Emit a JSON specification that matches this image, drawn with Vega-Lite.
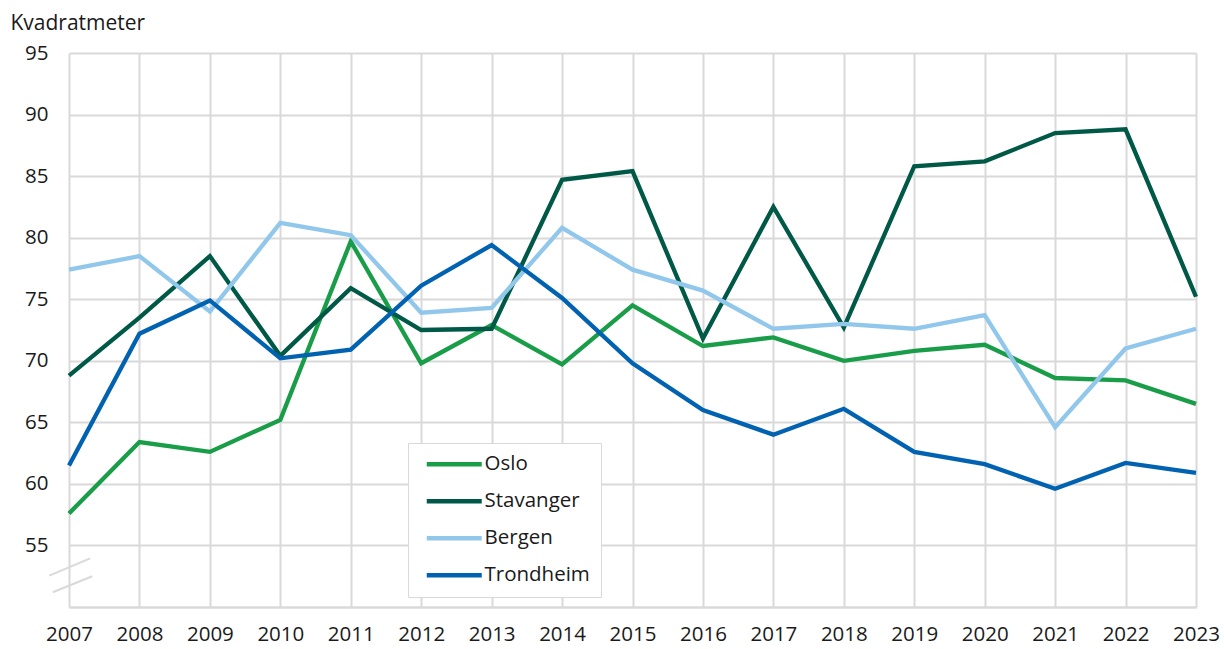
{
  "$schema": "https://vega.github.io/schema/vega-lite/v6.json",
  "width": 1127,
  "height": 554,
  "autosize": {"type": "none"},
  "padding": {"left": 69, "top": 53, "right": 28, "bottom": 42},
  "background": "white",
  "config": {
    "font": "Open Sans",
    "view": {"stroke": null},
    "axis": {"labelFont": "Open Sans", "titleFont": "Open Sans", "labelColor": "#1a1a1a", "titleColor": "#1a1a1a"}
  },
  "datasets": {
    "series": [
      {"year": 2007, "city": "Oslo", "value": 57.6},
      {"year": 2008, "city": "Oslo", "value": 63.4},
      {"year": 2009, "city": "Oslo", "value": 62.6},
      {"year": 2010, "city": "Oslo", "value": 65.2},
      {"year": 2011, "city": "Oslo", "value": 79.7},
      {"year": 2012, "city": "Oslo", "value": 69.8},
      {"year": 2013, "city": "Oslo", "value": 72.9},
      {"year": 2014, "city": "Oslo", "value": 69.7},
      {"year": 2015, "city": "Oslo", "value": 74.5},
      {"year": 2016, "city": "Oslo", "value": 71.2},
      {"year": 2017, "city": "Oslo", "value": 71.9},
      {"year": 2018, "city": "Oslo", "value": 70.0},
      {"year": 2019, "city": "Oslo", "value": 70.8},
      {"year": 2020, "city": "Oslo", "value": 71.3},
      {"year": 2021, "city": "Oslo", "value": 68.6},
      {"year": 2022, "city": "Oslo", "value": 68.4},
      {"year": 2023, "city": "Oslo", "value": 66.5},
      {"year": 2007, "city": "Stavanger", "value": 68.8},
      {"year": 2008, "city": "Stavanger", "value": 73.5},
      {"year": 2009, "city": "Stavanger", "value": 78.5},
      {"year": 2010, "city": "Stavanger", "value": 70.4},
      {"year": 2011, "city": "Stavanger", "value": 75.9},
      {"year": 2012, "city": "Stavanger", "value": 72.5},
      {"year": 2013, "city": "Stavanger", "value": 72.6},
      {"year": 2014, "city": "Stavanger", "value": 84.7},
      {"year": 2015, "city": "Stavanger", "value": 85.4},
      {"year": 2016, "city": "Stavanger", "value": 71.8},
      {"year": 2017, "city": "Stavanger", "value": 82.5},
      {"year": 2018, "city": "Stavanger", "value": 72.7},
      {"year": 2019, "city": "Stavanger", "value": 85.8},
      {"year": 2020, "city": "Stavanger", "value": 86.2},
      {"year": 2021, "city": "Stavanger", "value": 88.5},
      {"year": 2022, "city": "Stavanger", "value": 88.8},
      {"year": 2023, "city": "Stavanger", "value": 75.2},
      {"year": 2007, "city": "Bergen", "value": 77.4},
      {"year": 2008, "city": "Bergen", "value": 78.5},
      {"year": 2009, "city": "Bergen", "value": 74.0},
      {"year": 2010, "city": "Bergen", "value": 81.2},
      {"year": 2011, "city": "Bergen", "value": 80.2},
      {"year": 2012, "city": "Bergen", "value": 73.9},
      {"year": 2013, "city": "Bergen", "value": 74.3},
      {"year": 2014, "city": "Bergen", "value": 80.8},
      {"year": 2015, "city": "Bergen", "value": 77.4},
      {"year": 2016, "city": "Bergen", "value": 75.7},
      {"year": 2017, "city": "Bergen", "value": 72.6},
      {"year": 2018, "city": "Bergen", "value": 73.0},
      {"year": 2019, "city": "Bergen", "value": 72.6},
      {"year": 2020, "city": "Bergen", "value": 73.7},
      {"year": 2021, "city": "Bergen", "value": 64.6},
      {"year": 2022, "city": "Bergen", "value": 71.0},
      {"year": 2023, "city": "Bergen", "value": 72.6},
      {"year": 2007, "city": "Trondheim", "value": 61.5},
      {"year": 2008, "city": "Trondheim", "value": 72.2},
      {"year": 2009, "city": "Trondheim", "value": 74.9},
      {"year": 2010, "city": "Trondheim", "value": 70.2},
      {"year": 2011, "city": "Trondheim", "value": 70.9},
      {"year": 2012, "city": "Trondheim", "value": 76.1},
      {"year": 2013, "city": "Trondheim", "value": 79.4},
      {"year": 2014, "city": "Trondheim", "value": 75.1},
      {"year": 2015, "city": "Trondheim", "value": 69.8},
      {"year": 2016, "city": "Trondheim", "value": 66.0},
      {"year": 2017, "city": "Trondheim", "value": 64.0},
      {"year": 2018, "city": "Trondheim", "value": 66.1},
      {"year": 2019, "city": "Trondheim", "value": 62.6},
      {"year": 2020, "city": "Trondheim", "value": 61.6},
      {"year": 2021, "city": "Trondheim", "value": 59.6},
      {"year": 2022, "city": "Trondheim", "value": 61.7},
      {"year": 2023, "city": "Trondheim", "value": 60.9}
    ],
    "axisbreak": [
      {"x": 2006.72, "x2": 2007.3, "y": 52.55, "y2": 53.95},
      {"x": 2006.77, "x2": 2007.33, "y": 51.2, "y2": 52.5}
    ]
  },
  "layer": [
    {
      "data": {"name": "series"},
      "mark": {"type": "line", "strokeWidth": 4.3, "strokeJoin": "miter", "strokeCap": "butt"},
      "encoding": {
        "x": {
          "field": "year", "type": "quantitative",
          "scale": {"domain": [2007, 2023], "nice": false, "zero": false},
          "axis": {
            "values": [2007, 2008, 2009, 2010, 2011, 2012, 2013, 2014, 2015, 2016, 2017, 2018, 2019, 2020, 2021, 2022, 2023],
            "format": "d", "title": null, "ticks": false,
            "labelFontSize": 20.5, "labelPadding": 17, "labelBaseline": "top",
            "grid": true, "gridColor": "#d9d9d9", "gridWidth": 2,
            "domain": true, "domainColor": "#d9d9d9", "domainWidth": 2,
            "labelFlush": false, "labelOverlap": false
          }
        },
        "y": {
          "field": "value", "type": "quantitative",
          "scale": {"domain": [50, 95], "nice": false, "zero": false},
          "axis": {
            "values": [50, 55, 60, 65, 70, 75, 80, 85, 90, 95],
            "labelExpr": "datum.value == 50 ? '' : datum.label",
            "title": "Kvadratmeter", "titleAngle": 0, "titleAlign": "left",
            "titleBaseline": "alphabetic", "titleX": -59, "titleY": -24,
            "titleFontSize": 21, "titleFontWeight": "normal",
            "ticks": false, "labelFontSize": 20.5, "labelPadding": 21,
            "grid": true, "gridColor": "#d9d9d9", "gridWidth": 2,
            "domain": false, "labelFlush": false
          }
        },
        "color": {
          "field": "city", "type": "nominal",
          "scale": {
            "domain": ["Oslo", "Stavanger", "Bergen", "Trondheim"],
            "range": ["#1a9d49", "#005946", "#92c7ec", "#0062b0"]
          },
          "legend": {
            "title": null, "orient": "none", "legendX": 339, "legendY": 390,
            "direction": "vertical",
            "symbolType": "M-4,0H4", "symbolSize": 189, "symbolStrokeWidth": 4.3,
            "symbolOffset": 25,
            "labelFontSize": 20.5, "labelFont": "Open Sans", "labelColor": "#1a1a1a",
            "rowPadding": 16, "padding": 11,
            "strokeColor": "#d9d9d9", "fillColor": "white", "labelOffset": 20
          }
        }
      }
    },
    {
      "data": {"name": "axisbreak"},
      "mark": {"type": "rule", "color": "#d9d9d9", "strokeWidth": 2, "clip": false},
      "encoding": {
        "x": {"field": "x", "type": "quantitative"},
        "x2": {"field": "x2"},
        "y": {"field": "y", "type": "quantitative"},
        "y2": {"field": "y2"}
      }
    }
  ]
}
